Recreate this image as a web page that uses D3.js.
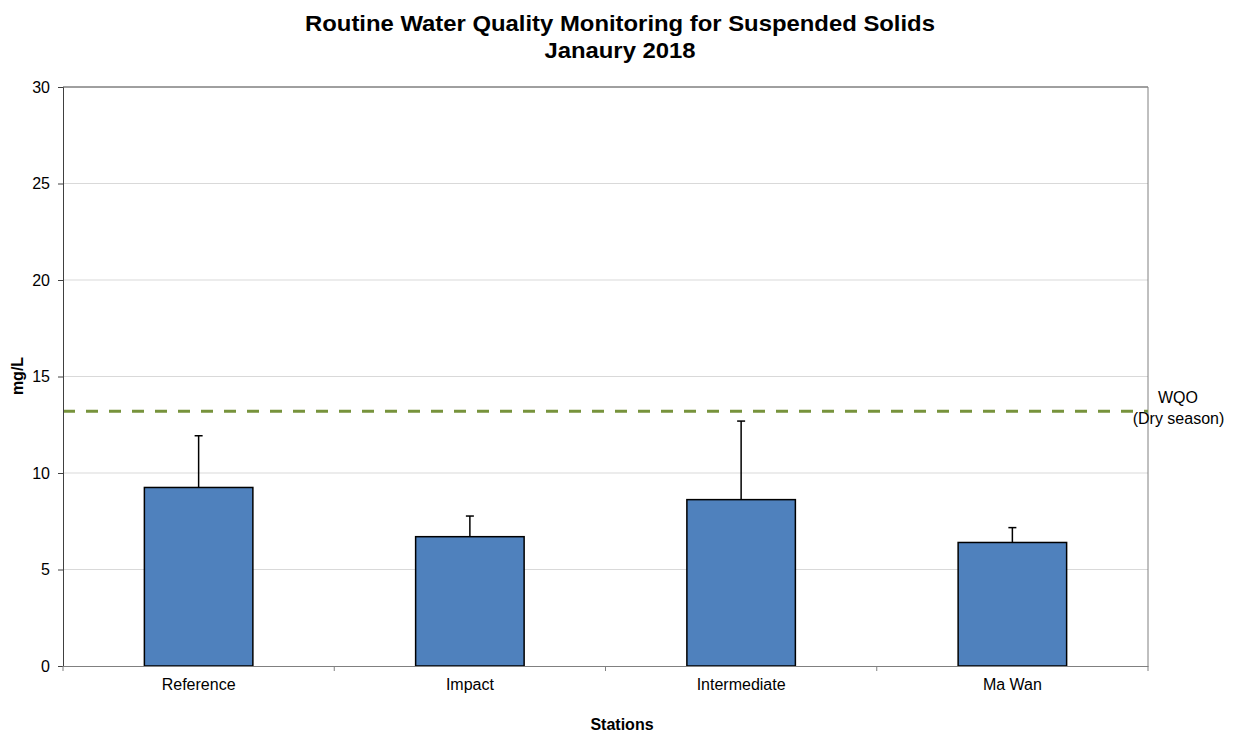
<!DOCTYPE html>
<html><head><meta charset="utf-8">
<script src="https://cdn.jsdelivr.net/npm/d3@7"></script>
<style>body{margin:0;background:#fff}svg{display:block;font-family:"Liberation Sans",Arial,sans-serif}</style>
</head><body>
<svg id="c" width="1239" height="733"></svg>
<script>
const categories = ["Reference","Impact","Intermediate","Ma Wan"];
const meanValues = [9.25, 6.70, 8.62, 6.40];
const errorTops = [11.93, 7.77, 12.69, 7.17];
const yTicks = [0,5,10,15,20,25,30];
const wqoValue = 13.2;
const titleLines = ["Routine Water Quality Monitoring for Suspended Solids","Janaury 2018"];

const svg = d3.select("#c");
const m = {l:63, r:1148, t:87, b:666};
const x = d3.scaleBand().domain(categories).range([m.l, m.r]).paddingInner(0).paddingOuter(0);
const y = d3.scaleLinear().domain([0,30]).range([m.b, m.t]);

// gridlines
svg.append("g").selectAll("line").data(yTicks.filter(d=>d>0 && d<30)).join("line")
  .attr("x1",m.l).attr("x2",m.r).attr("y1",d=>y(d)).attr("y2",d=>y(d))
  .attr("stroke","#d9d9d9").attr("stroke-width",1);

// plot border top/right
svg.append("line").attr("x1",m.l).attr("x2",m.r).attr("y1",y(30)).attr("y2",y(30)).attr("stroke","#404040");
svg.append("line").attr("x1",m.r).attr("x2",m.r).attr("y1",m.t).attr("y2",m.b).attr("stroke","#808080");

// error bars
const bw = x.bandwidth()*0.4;
svg.append("g").selectAll("line").data(categories).join("line")
  .attr("x1",d=>x(d)+x.bandwidth()/2).attr("x2",d=>x(d)+x.bandwidth()/2)
  .attr("y1",(d,i)=>y(meanValues[i])).attr("y2",(d,i)=>y(errorTops[i]))
  .attr("stroke","#000").attr("stroke-width",1.5);
svg.append("g").selectAll("line").data(categories).join("line")
  .attr("x1",d=>x(d)+x.bandwidth()/2-4).attr("x2",d=>x(d)+x.bandwidth()/2+4)
  .attr("y1",(d,i)=>y(errorTops[i])).attr("y2",(d,i)=>y(errorTops[i]))
  .attr("stroke","#000").attr("stroke-width",1.5);

// bars
svg.append("g").selectAll("rect").data(categories).join("rect")
  .attr("x",d=>x(d)+(x.bandwidth()-bw)/2).attr("width",bw)
  .attr("y",(d,i)=>y(meanValues[i])).attr("height",(d,i)=>y(0)-y(meanValues[i]))
  .attr("fill","#4f81bd").attr("stroke","#000").attr("stroke-width",1.5);

// WQO line
svg.append("line").attr("x1",m.l).attr("x2",m.r).attr("y1",y(wqoValue)).attr("y2",y(wqoValue))
  .attr("stroke","#77933c").attr("stroke-width",3).attr("stroke-dasharray","12,11");

// y axis
const ya = svg.append("g").attr("transform",`translate(${m.l},0)`)
  .call(d3.axisLeft(y).tickValues(yTicks).tickSize(5).tickPadding(8).tickFormat(d3.format("d")));
ya.select(".domain").attr("stroke","#404040");
ya.selectAll(".tick line").attr("stroke","#404040");
ya.selectAll("text").attr("font-size",16).attr("fill","#000").style("font-family","Liberation Sans, Arial, sans-serif");

// x axis
const xa = svg.append("g").attr("transform",`translate(0,${m.b})`)
  .call(d3.axisBottom(x).tickSize(0).tickPadding(13));
xa.select(".domain").attr("stroke","#808080");
xa.selectAll("text").attr("font-size",16).attr("fill","#000").style("font-family","Liberation Sans, Arial, sans-serif");
// category boundary ticks
const bounds = [m.l, ...categories.map(c=>x(c)+x.bandwidth())];
svg.append("g").selectAll("line").data(bounds).join("line")
  .attr("x1",d=>d).attr("x2",d=>d).attr("y1",m.b).attr("y2",m.b+5).attr("stroke","#808080");

// title
svg.append("g").attr("transform","translate(620,0) scale(1.085,1)")
  .selectAll("text").data(titleLines).join("text")
  .attr("x",0).attr("y",(d,i)=>31.5+i*27).attr("text-anchor","middle")
  .attr("font-size",22).attr("font-weight","bold").text(d=>d);

// axis titles
svg.append("text").attr("transform","translate(23,376) rotate(-90)").attr("text-anchor","middle")
  .attr("font-size",16).attr("font-weight","bold").text("mg/L");
svg.append("text").attr("x",622).attr("y",730).attr("text-anchor","middle")
  .attr("font-size",16).attr("font-weight","bold").text("Stations");

// WQO label
svg.append("text").attr("x",1178).attr("y",403).attr("text-anchor","middle").attr("font-size",16).text("WQO");
svg.append("text").attr("x",1178.5).attr("y",424).attr("text-anchor","middle").attr("font-size",16).text("(Dry season)");
</script>
</body></html>
